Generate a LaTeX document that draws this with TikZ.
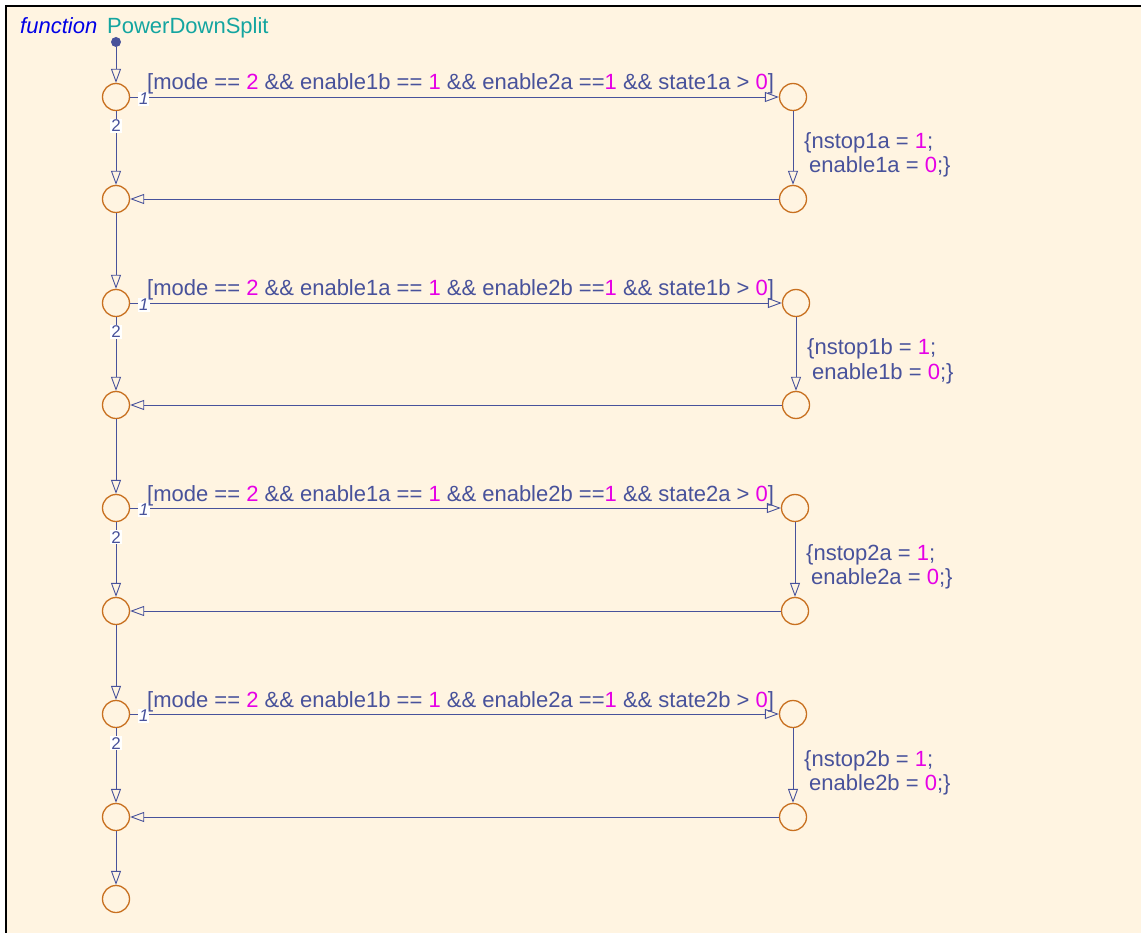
\documentclass[tikz,border=0pt]{standalone}
\usepackage{fontspec}
\setmainfont{Liberation Sans}
\usetikzlibrary{arrows.meta,positioning,calc}

\definecolor{chartbg}{RGB}{255,244,225}
\definecolor{wire}{RGB}{72,82,155}
\definecolor{junc}{RGB}{200,112,32}
\definecolor{numcol}{RGB}{230,0,230}
\definecolor{fncol}{RGB}{0,0,230}
\definecolor{namecol}{RGB}{20,165,160}

\newcommand{\chartfont}{\fontsize{22}{24}\selectfont}
\newcommand{\cnum}[1]{\textcolor{numcol}{#1}}

\tikzset{
  junction/.style={circle,draw=junc,line width=1.3pt,minimum size=27pt,inner sep=0pt},
  dflt/.style={circle,fill=wire,minimum size=10pt,inner sep=0pt},
  trans/.style={draw=wire,line width=0.9pt,-{Triangle[open,length=14pt,width=10pt]}},
  chartlbl/.style={anchor=base west,inner sep=0pt,text=wire,font=\chartfont},
  prio/.style={fill=white,inner sep=1pt,text=wire,font=\fontsize{17}{19}\selectfont},
}

\begin{document}
\begin{tikzpicture}[x=1pt,y=-1pt]
\clip (0,0) rectangle (1141,933);
% chart frame
\fill[chartbg] (6,6) rectangle (1160,950);
\draw[line width=2pt] (1160,6) -- (6,6) -- (6,950);

\node[chartlbl,text=fncol,font=\chartfont\itshape] (kind) at (20,34) {function};
\node[chartlbl,text=namecol] (name) at (107,34) {PowerDownSplit};

% default transition
\node[dflt] (start) at (116,42) {};

% one block per state: guard on top, action on the right, back to the left column
\foreach \i/\yt/\yb/\xr/\ea/\eb/\st in {1/97/199/793/1b/2a/1a,2/303/405/796/1a/2b/1b,3/508/611/795/1a/2b/2a,4/714/817/793/1b/2a/2b}{
  \node[junction] (top\i) at (116,\yt) {};
  \node[junction] (bot\i) at (116,\yb) {};
  \node[junction] (rt\i) at (\xr,\yt) {};
  \node[junction] (rb\i) at (\xr,\yb) {};

  \draw[trans] (top\i) -- node[prio,pos=0.021,yshift=-2pt] (one\i) {\itshape 1} (rt\i);
  \draw[trans] (top\i) -- node[prio,pos=0.2] (two\i) {2} (bot\i);
  \draw[trans] (rt\i) -- (rb\i);
  \draw[trans] (rb\i) -- (bot\i);

  \node[chartlbl] (grd\i) at ($(top\i)+(31,-7)$)
    {[mode == \cnum{2} \&\& enable\ea{} == \cnum{1} \&\& enable\eb{} ==\cnum{1} \&\& state\st{} > \cnum{0}]};
  \node[chartlbl] (set\i) at ($(rt\i)+(11,52)$) {\{nstop\st{} = \cnum{1};};
  \node[chartlbl] (clr\i) at ($(rt\i)+(16,76)$) {enable\st{} = \cnum{0};\}};
}

\node[junction] (fin) at (116,899) {};

\draw[trans] (start) -- (top1);
\foreach \i/\j in {1/2,2/3,3/4}
  \draw[trans] (bot\i) -- (top\j);
\draw[trans] (bot4) -- (fin);
\end{tikzpicture}
\end{document}
